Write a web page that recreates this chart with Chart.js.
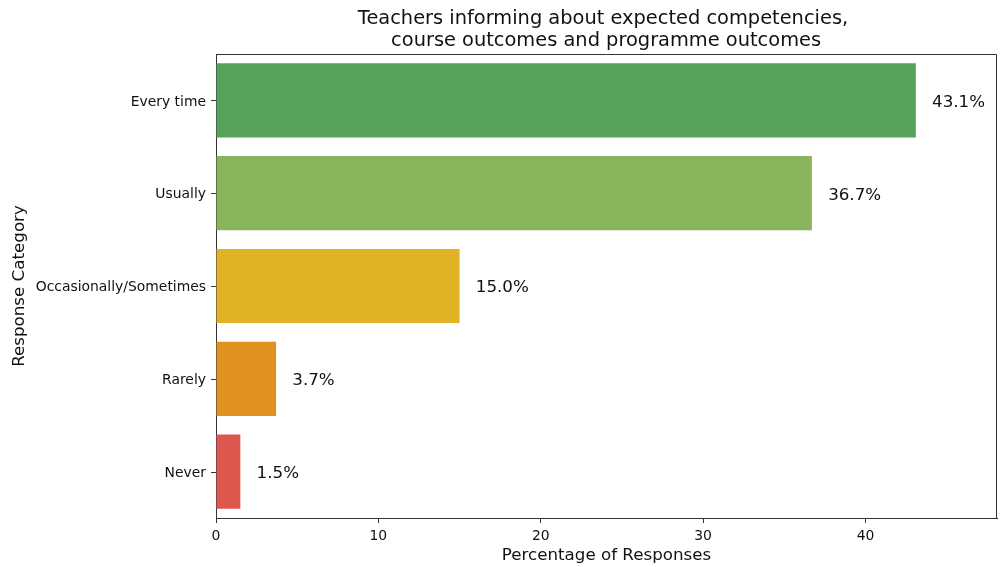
<!DOCTYPE html>
<html>
<head>
<meta charset="utf-8">
<script src="https://cdn.jsdelivr.net/npm/chart.js@4.4.1/dist/chart.umd.min.js"></script>
<style>
  html, body { margin: 0; padding: 0; background: #fff; }
  #wrap { width: 1001px; height: 567px; }
</style>
</head>
<body>
<div id="wrap"><canvas id="chart" width="1001" height="567"></canvas></div>
<script>
// Survey results: how often teachers inform about competencies / outcomes
const categories = ['Every time', 'Usually', 'Occasionally/Sometimes', 'Rarely', 'Never'];
const percentages = [43.1, 36.7, 15.0, 3.7, 1.5];
const barColors = ['#58A35B', '#8AB459', '#E0B226', '#DF9220', '#DC574E'];
const xTicks = [0, 10, 20, 30, 40];
const titleLines = ['Teachers informing about expected competencies,', ' course outcomes and programme outcomes'];

const FONT = 'DejaVu Sans';
const INK = '#111';

// top/right spines, chart title and the value labels next to each bar
const decorations = {
    id: 'decorations',
    afterDatasetsDraw(chart) {
        const { ctx, chartArea: a, scales } = chart;
        ctx.save();
        ctx.strokeStyle = '#333';
        ctx.lineWidth = 1;
        ctx.beginPath();
        ctx.moveTo(a.left, a.top + 0.5);
        ctx.lineTo(a.right - 0.5, a.top + 0.5);
        ctx.lineTo(a.right - 0.5, a.bottom);
        // small tick marks left of the category axis
        categories.forEach((c, i) => {
            const y = Math.round(scales.y.getPixelForValue(i)) + 0.5;
            ctx.moveTo(a.left - 5, y);
            ctx.lineTo(a.left, y);
        });
        ctx.stroke();

        ctx.fillStyle = INK;
        ctx.font = `16.7px "${FONT}"`;
        ctx.textAlign = 'left';
        ctx.textBaseline = 'middle';
        percentages.forEach((v, i) => {
            const x = scales.x.getPixelForValue(v + 1);
            const y = scales.y.getPixelForValue(i);
            ctx.fillText(v.toFixed(1) + '%', x, y + 2);
        });

        ctx.font = `19.4px "${FONT}"`;
        ctx.textAlign = 'center';
        const cx = 603;
        ctx.fillText(titleLines[0], cx, 19);
        ctx.fillText(titleLines[1], cx, 41);
        ctx.restore();
    }
};

new Chart(document.getElementById('chart'), {
    type: 'bar',
    data: {
        labels: categories,
        datasets: [{
            data: percentages,
            backgroundColor: barColors,
            borderWidth: 0,
            barPercentage: 0.8,
            categoryPercentage: 1.0
        }]
    },
    options: {
        indexAxis: 'y',
        responsive: false,
        animation: false,
        layout: { padding: { top: 54, right: 4, bottom: 0, left: 0 } },
        plugins: {
            legend: { display: false },
            tooltip: { enabled: false }
        },
        scales: {
            x: {
                min: 0,
                max: 48.1,
                afterFit: s => { s.height = 49; },
                afterBuildTicks: s => { s.ticks = xTicks.map(v => ({ value: v })); },
                border: { display: true, color: '#333', width: 1 },
                grid: { drawOnChartArea: false, drawTicks: true, tickLength: 5, tickColor: '#333' },
                ticks: { color: INK, font: { family: FONT, size: 13.9 }, padding: 5, maxRotation: 0 },
                title: {
                    display: true,
                    text: 'Percentage of Responses',
                    color: INK,
                    font: { family: FONT, size: 16.7 },
                    padding: { top: 0, bottom: 1 }
                }
            },
            y: {
                afterFit: s => { s.width = 216; },
                border: { display: true, color: '#333', width: 1 },
                grid: { display: false, tickLength: 5 },
                ticks: { color: INK, font: { family: FONT, size: 13.9 }, padding: 5, labelOffset: 1.5 },
                title: {
                    display: true,
                    text: 'Response Category',
                    color: INK,
                    font: { family: FONT, size: 16.7 },
                    padding: { top: 10, bottom: 0 }
                }
            }
        }
    },
    plugins: [decorations]
});
</script>
</body>
</html>
